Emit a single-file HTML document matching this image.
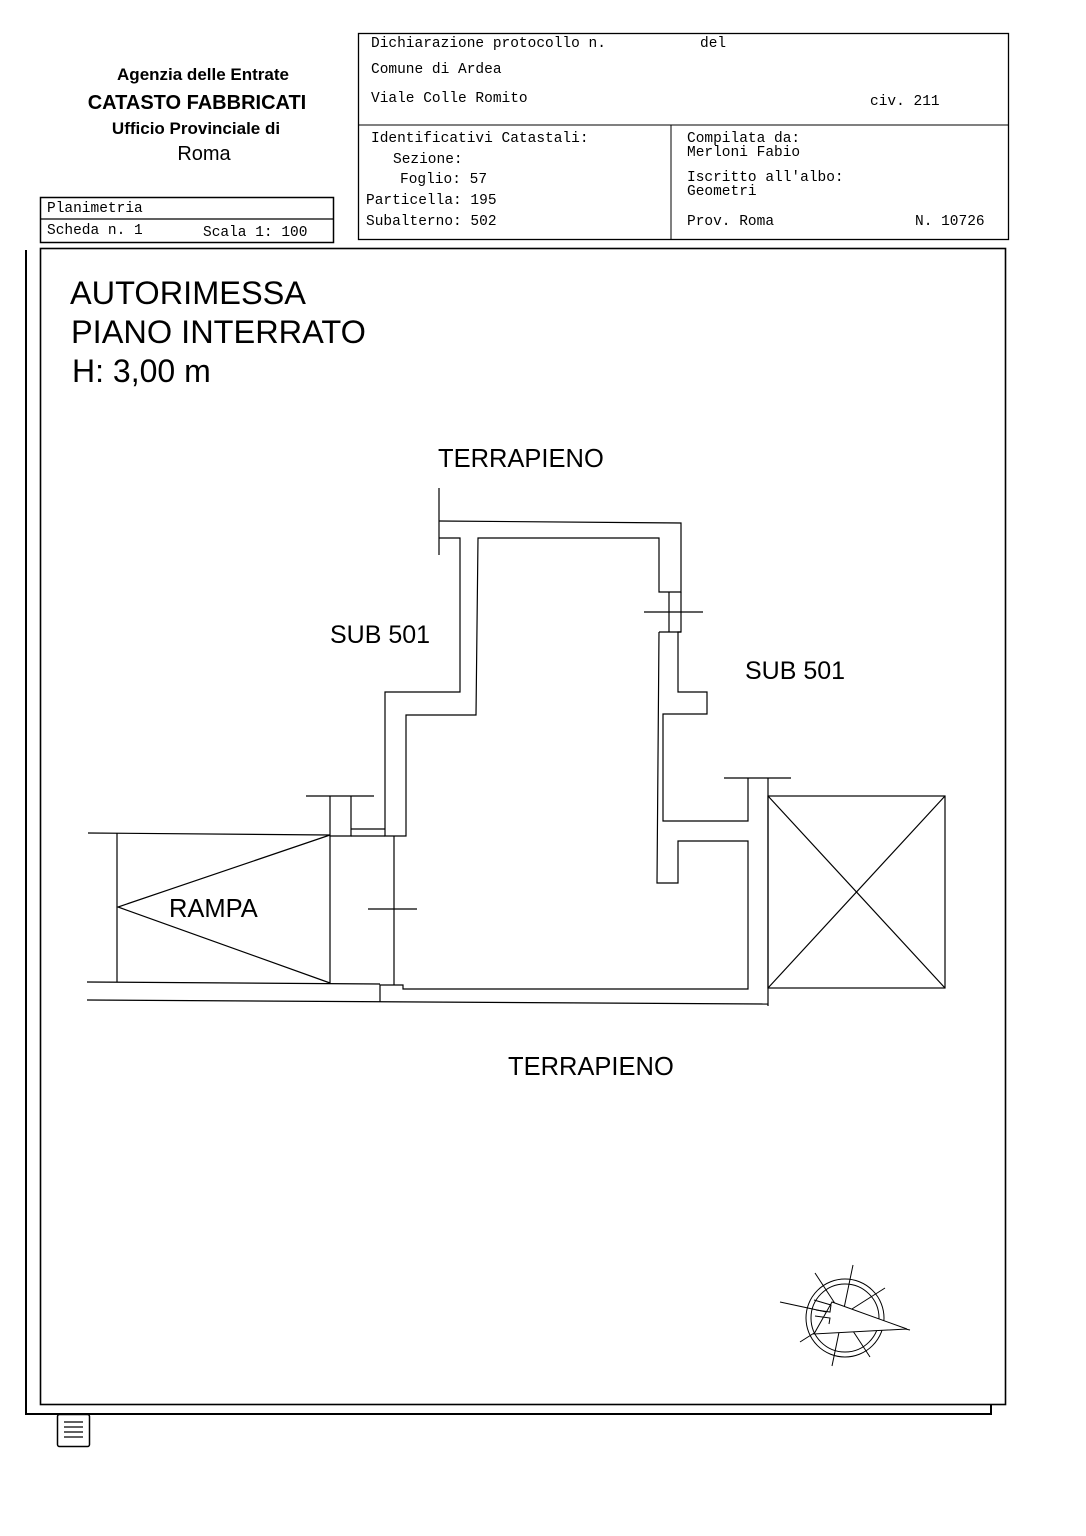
<!DOCTYPE html>
<html><head><meta charset="utf-8"><style>
body{margin:0;background:#fff}
svg{display:block}
.m{font-family:"Liberation Mono",monospace;font-size:14.5px}
.s{font-family:"Liberation Sans",sans-serif}
</style></head><body>
<svg width="1086" height="1536" viewBox="0 0 1086 1536" xmlns="http://www.w3.org/2000/svg">
<g fill="none" stroke="#000">
<rect x="358.5" y="33.5" width="650" height="206" stroke-width="1.3"/>
<line x1="358" y1="125" x2="1008" y2="125"/>
<line x1="671" y1="125" x2="671" y2="239"/>
<rect x="40.5" y="197.5" width="293" height="45" stroke-width="1.5"/>
<line x1="40" y1="219" x2="333" y2="219" stroke-width="1.3"/>
<rect x="40.5" y="248.5" width="965" height="1156" stroke-width="1.6"/>
<polyline points="26,250 26,1414 991,1414 991,1405" stroke-width="2"/>
<g stroke-width="1.2">
<line x1="439" y1="488" x2="439" y2="555"/>
<polyline points="439,521 681,523 681,592 659,592 659,538 478,538 476,715 406,715 406,836 385,836 385,692 460,692 460,538 439,538"/>
<polyline points="669,592 669,632"/>
<polyline points="681,592 681,632 678,632 678,692 707,692 707,714 663,714 663,821 748,821 748,778"/>
<line x1="724" y1="778" x2="791" y2="778"/>
<polyline points="659,632 681,632"/>
<polyline points="659,632 657,883 678,883 678,841 748,841 748,989 403,989 403,985 380,985 380,1002"/>
<line x1="768" y1="778" x2="768" y2="1006"/>
<line x1="644" y1="612" x2="703" y2="612"/>
<line x1="394" y1="836" x2="394" y2="985"/>
<line x1="368" y1="909" x2="417" y2="909"/>
<line x1="87" y1="1000" x2="768" y2="1004"/>
<line x1="306" y1="796" x2="374" y2="796"/>
<polyline points="330,796 330,836 351,836 351,796"/>
<line x1="351" y1="829" x2="385" y2="829"/>
<line x1="351" y1="836" x2="385" y2="836"/>
<line x1="88" y1="833" x2="330" y2="835"/>
<line x1="117" y1="833" x2="117" y2="982"/>
<line x1="87" y1="982" x2="380" y2="984"/>
<line x1="330" y1="836" x2="330" y2="984"/>
<polyline points="330,835 118,907 330,983"/>
<rect x="768" y="796" width="177" height="192"/>
<line x1="768" y1="796" x2="945" y2="988"/>
<line x1="945" y1="796" x2="768" y2="988"/>
</g>
<g stroke-width="1">
<circle cx="845" cy="1318" r="39"/>
<circle cx="845" cy="1318" r="34"/>
<line x1="780" y1="1302" x2="910" y2="1330"/>
<line x1="815" y1="1273" x2="870" y2="1357"/>
<line x1="853" y1="1265" x2="832" y2="1366"/>
<line x1="885" y1="1288" x2="800" y2="1342"/>
<polygon points="832,1302 907,1329 814,1334" fill="#fff"/>
<polyline points="814,1300 831,1305 830,1312 816,1310"/>
<polyline points="815,1316 830,1318 829,1324"/>
</g>
<rect x="57.5" y="1414.5" width="32" height="32" rx="2" stroke-width="1.5"/>
<g stroke-width="1.3"><line x1="64" y1="1422" x2="83" y2="1422"/><line x1="64" y1="1427" x2="83" y2="1427"/><line x1="64" y1="1432" x2="83" y2="1432"/><line x1="64" y1="1437" x2="83" y2="1437"/></g>
</g>
<g fill="#000">
<text x="203" y="80" class="s" font-size="17" font-weight="bold" text-anchor="middle">Agenzia delle Entrate</text>
<text x="197" y="109" class="s" font-size="20" font-weight="bold" text-anchor="middle">CATASTO FABBRICATI</text>
<text x="196" y="134" class="s" font-size="17" font-weight="bold" text-anchor="middle">Ufficio Provinciale di</text>
<text x="204" y="160" class="s" font-size="20" text-anchor="middle">Roma</text>
<text x="371" y="47" class="m">Dichiarazione protocollo n.</text>
<text x="700" y="47" class="m">del</text>
<text x="371" y="73" class="m">Comune di Ardea</text>
<text x="371" y="102" class="m">Viale Colle Romito</text>
<text x="870" y="105" class="m">civ. 211</text>
<text x="371" y="142" class="m">Identificativi Catastali:</text>
<text x="393" y="163" class="m">Sezione:</text>
<text x="400" y="183" class="m">Foglio: 57</text>
<text x="366" y="204" class="m">Particella: 195</text>
<text x="366" y="225" class="m">Subalterno: 502</text>
<text x="687" y="142" class="m">Compilata da:</text>
<text x="687" y="156" class="m">Merloni Fabio</text>
<text x="687" y="181" class="m">Iscritto all'albo:</text>
<text x="687" y="195" class="m">Geometri</text>
<text x="687" y="225" class="m">Prov. Roma</text>
<text x="915" y="225" class="m">N. 10726</text>
<text x="47" y="212" class="m">Planimetria</text>
<text x="47" y="234" class="m">Scheda n. 1</text>
<text x="203" y="236" class="m">Scala 1: 100</text>
<text x="70" y="304" class="s" font-size="32.5">AUTORIMESSA</text>
<text x="71" y="343" class="s" font-size="32.5">PIANO INTERRATO</text>
<text x="72" y="382" class="s" font-size="32">H: 3,00 m</text>
<text x="438" y="467" class="s" font-size="25.5">TERRAPIENO</text>
<text x="330" y="643" class="s" font-size="25">SUB 501</text>
<text x="745" y="679" class="s" font-size="25">SUB 501</text>
<text x="169" y="917" class="s" font-size="25.5">RAMPA</text>
<text x="508" y="1075" class="s" font-size="25.5">TERRAPIENO</text>
</g>
</svg>
</body></html>
